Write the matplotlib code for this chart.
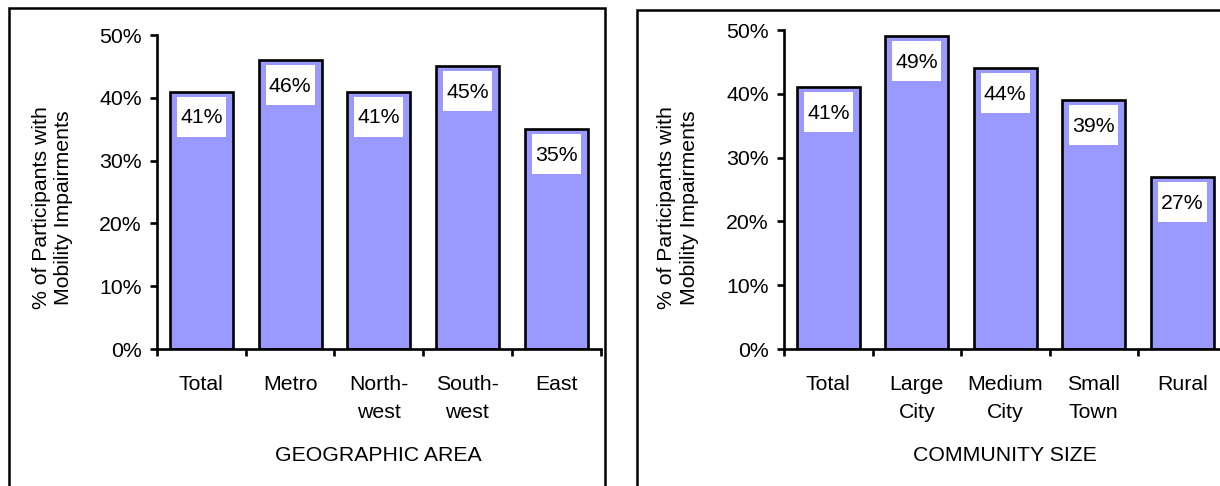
import matplotlib
matplotlib.use("Agg")
import matplotlib.pyplot as plt
from matplotlib.patches import Rectangle

# ---- data ----
geo_categories = ["Total", "Metro", "North-\nwest", "South-\nwest", "East"]
geo_values = [41, 46, 41, 45, 35]
comm_categories = ["Total", "Large\nCity", "Medium\nCity", "Small\nTown", "Rural"]
comm_values = [41, 49, 44, 39, 27]
y_ticks = [0, 10, 20, 30, 40, 50]
y_ticklabels = ["0%", "10%", "20%", "30%", "40%", "50%"]
ylabel_text = "% of Participants with\nMobility Impairments"
geo_title = "GEOGRAPHIC AREA"
comm_title = "COMMUNITY SIZE"

W, H = 1220, 486
plt.rcParams['font.family'] = ['Liberation Sans', 'DejaVu Sans']
FS = 15.3
BAR_COLOR = "#9999FF"
LW = 1.9

fig = plt.figure(figsize=(W / 100, H / 100), dpi=100)

# panel borders (figure pixels)
def fig_rect(x0, y0_top, x1, y1_bottom):
    r = Rectangle((x0 / W, 1 - y1_bottom / H), (x1 - x0) / W, (y1_bottom - y0_top) / H,
                  transform=fig.transFigure, fill=False, edgecolor="black", linewidth=1.8,
                  clip_on=False)
    fig.add_artist(r)

fig_rect(9, 8, 605, 520)
fig_rect(637, 10, 1300, 520)


def make_panel(ax_px, cats, vals, title, ylab_x_px, ylab_y_px):
    x0, top, x1, bottom = ax_px
    ax = fig.add_axes([x0 / W, 1 - bottom / H, (x1 - x0) / W, (bottom - top) / H])
    n = len(cats)
    xs = [i + 0.5 for i in range(n)]
    ax.bar(xs, vals, width=0.71, color=BAR_COLOR, edgecolor="black", linewidth=LW, zorder=2)
    ax.set_xlim(0, n)
    ax.set_ylim(0, 50)
    for s in ("top", "right"):
        ax.spines[s].set_visible(False)
    for s in ("left", "bottom"):
        ax.spines[s].set_linewidth(LW)
        ax.spines[s].set_zorder(3)
    ax.set_yticks(y_ticks)
    ax.set_yticklabels(y_ticklabels, fontsize=FS)
    ax.tick_params(axis="y", direction="out", length=5, width=LW, pad=6)
    ax.set_xticks(range(n + 1))
    ax.set_xticklabels([])
    ax.set_xticks(xs, minor=True)
    ax.set_xticklabels(cats, minor=True, fontsize=FS, linespacing=1.55)
    ax.tick_params(axis="x", which="major", direction="out", length=5, width=LW)
    ax.tick_params(axis="x", which="minor", length=0, pad=19)

    # value label boxes (pixel sized)
    ppu = (bottom - top) / 50.0
    bw = 49 / ((x1 - x0) / n)
    bh = 40 / ppu
    off = 5 / ppu
    for x, v in zip(xs, vals):
        ax.add_patch(Rectangle((x - bw / 2, v - off - bh), bw, bh, facecolor="white",
                               edgecolor="none", zorder=4))
        ax.text(x, v - off - bh / 2 - 0.2, f"{v}%", ha="center", va="center",
                fontsize=FS, zorder=5)

    ax.set_xlabel(title, fontsize=FS, va="top")
    ax.xaxis.set_label_coords(0.5, (bottom - 446) / (bottom - top))
    ax.set_ylabel(ylabel_text, fontsize=FS, ha="center", va="center",
                  rotation_mode="anchor", linespacing=1.25)
    ax.yaxis.set_label_coords((ylab_x_px - x0) / (x1 - x0), (bottom - ylab_y_px) / (bottom - top))
    return ax

make_panel((157, 35, 600.5, 349), geo_categories, geo_values, geo_title, 52.5, 208)
make_panel((784, 30, 1226.5, 349), comm_categories, comm_values, comm_title, 678, 208)

fig.savefig("out.png", dpi=100)
